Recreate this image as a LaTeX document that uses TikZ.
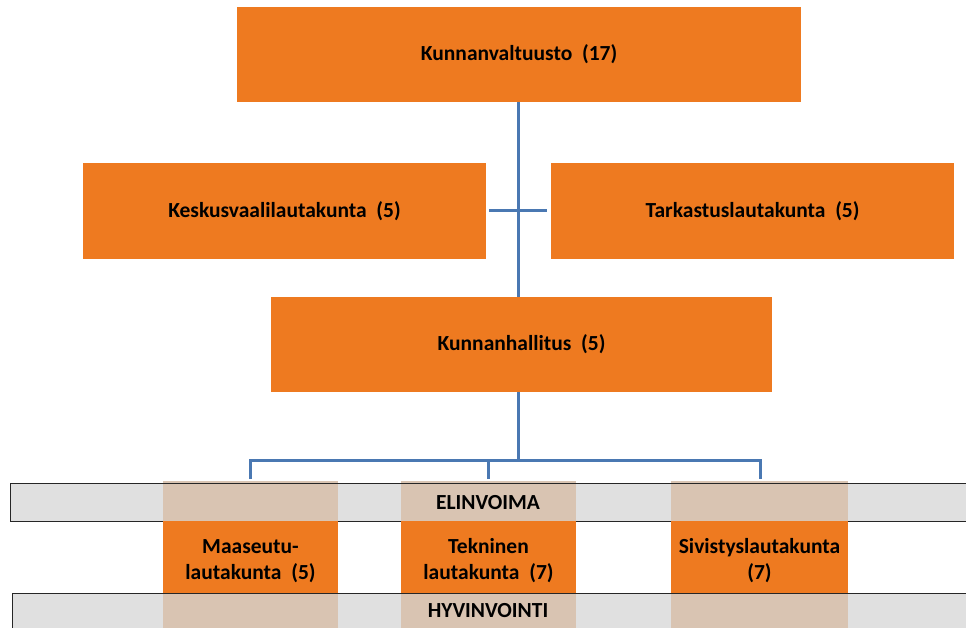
\documentclass[tikz,border=0pt]{standalone}
\usepackage{fontspec}
\setmainfont{Carlito}
\usetikzlibrary{positioning}

\definecolor{boxorange}{RGB}{238,122,32}
\definecolor{coltan}{RGB}{217,196,178}
\definecolor{bandgray}{RGB}{224,224,224}
\definecolor{linkblue}{RGB}{74,120,178}

\tikzset{
  board/.style={fill=boxorange, inner sep=0pt, align=center, font=\bfseries\fontsize{21.5}{25.5}\selectfont},
  link/.style={draw=linkblue, line width=3pt},
  band/.style={draw=black!85, line width=0.9pt},
  bandlabel/.style={font=\bfseries\fontsize{21.5}{25}\selectfont}
}

\begin{document}
\begin{tikzpicture}[x=1pt,y=-1pt]

			\useasboundingbox (0,0) rectangle (966,628);
			\clip (0,0) rectangle (966,628);

			\node[board, minimum width = 564pt, minimum height = 95pt]
			(Valtuusto) at (519,54.5) {Kunnanvaltuusto~~(17)};

			\node[board, minimum width = 403pt, minimum height = 96pt]
			(Keskusvaali) at (284.5,211) {Keskusvaalilautakunta~~(5)};

			\node[board, minimum width = 403pt, minimum height = 96pt]
			(Tarkastus) at (752.5,211) {Tarkastuslautakunta~~(5)};

			\node[board, minimum width = 501pt, minimum height = 95pt]
			(Hallitus) at (521.5,344.5) {Kunnanhallitus~~(5)};

			\coordinate (Cross-L) at (489,211);
			\coordinate (Cross-R) at (547,211);
			\coordinate (Branch) at (518,460);

			\draw[link] (Branch |- Valtuusto.south) -- (Branch |- Hallitus.north);
			\draw[link] (Cross-L) -- (Cross-R);

			\fill[bandgray] (10,483) rectangle (970,521);
			\fill[bandgray] (12,593) rectangle (970,640);

			\fill[coltan] (163,481) rectangle (338,640);
			\fill[coltan] (401,481) rectangle (576,640);
			\fill[coltan] (671,481) rectangle (848,640);

			\draw[band] (970,483) -- (10,483) -- (10,521) -- (970,521);
			\draw[band] (970,593) -- (12,593) -- (12,640);

			\node[bandlabel] (Elinvoima) at (488,503) {ELINVOIMA};
			\node[bandlabel] (Hyvinvointi) at (488,611) {HYVINVOINTI};

			\node[board, minimum width = 175pt, minimum height = 72pt]
			(Maaseutu) at (250.5,557) {\rule{0pt}{22pt}Maaseutu-\\lautakunta~~(5)};

			\node[board, minimum width = 175pt, minimum height = 72pt]
			(Tekninen) at (488.5,557) {\rule{0pt}{22pt}Tekninen\\lautakunta~~(7)};

			\node[board, minimum width = 177pt, minimum height = 72pt]
			(Sivistys) at (759.5,557) {\rule{0pt}{22pt}Sivistyslautakunta\\(7)};

			\coordinate (Drop-1) at (250,479);
			\coordinate (Drop-2) at (488,479);
			\coordinate (Drop-3) at (760,479);

			\draw[link] (Branch |- Hallitus.south) -- (Branch);
			\draw[link] (Drop-1) |- (Branch) -| (Drop-3);
			\draw[link] (Drop-2) -- (Drop-2 |- Branch);

\end{tikzpicture}
\end{document}
